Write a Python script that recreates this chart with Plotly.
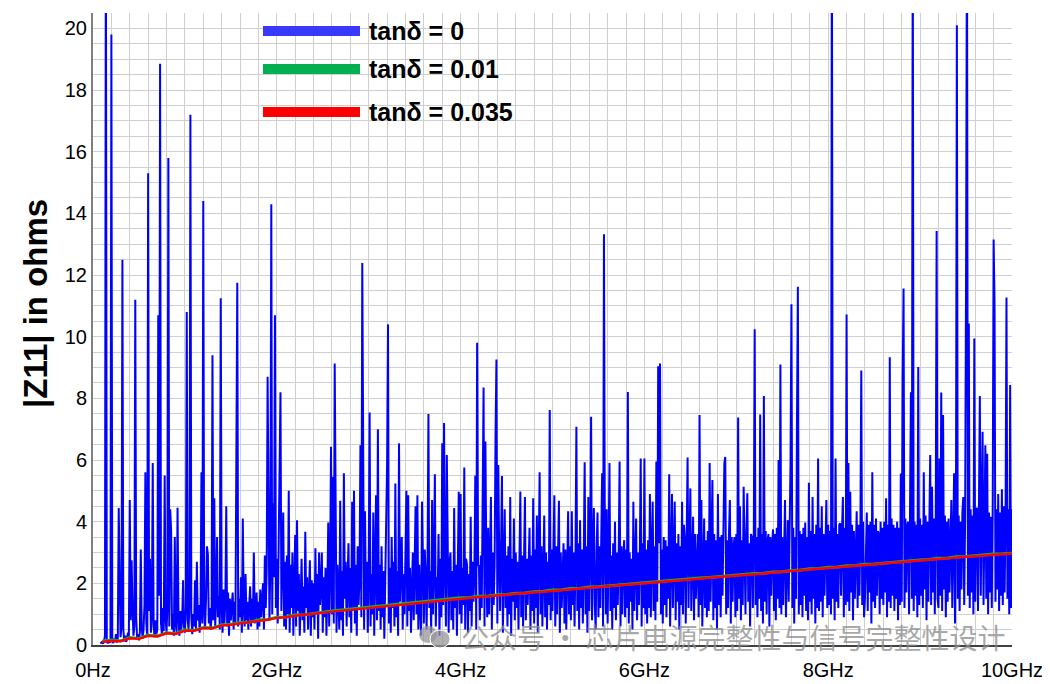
import numpy as np
import plotly.graph_objects as go

# ---------------- data ----------------
# |Z11| for tanδ = 0, sampled every 0.01 GHz; first row starts at 0.08 GHz,
# every following row covers 0.1 GHz (r*0.1 ... r*0.1+0.09), last row = 10.00 GHz
z_blue_rows = [
    [0.05, 0.08],
    [0.1, 0.04, 0.12, 0.3, 24, 0.2, 0.05, 0.15, 0.08, 0.12],
    [19.8, 0.15, 0.06, 0.2, 0.1, 0.35, 0.08, 0.22, 4.44, 2.2],
    [0.25, 0.6, 12.5, 0.5, 0.12, 0.3, 0.1, 0.18, 0.4, 0.2],
    [4.7, 0.8, 2.75, 1.2, 0.3, 0.6, 11.2, 0.9, 0.2, 0.35],
    [0.15, 0.4, 3.1, 0.6, 0.2, 0.5, 1.3, 5.6, 0.7, 0.3],
    [15.3, 1.1, 2.8, 0.4, 0.9, 5.9, 0.6, 0.25, 0.8, 0.35],
    [0.5, 10.7, 1.6, 18.85, 0.7, 0.3, 1.2, 0.45, 5.5, 0.9],
    [0.4, 1.3, 15.8, 0.6, 4.4, 3.7, 0.5, 1.0, 0.3, 3.5],
    [0.7, 0.4, 4.45, 0.9, 0.3, 1.1, 0.5, 0.8, 2.1, 0.6],
    [0.4, 1.2, 10.8, 0.8, 0.5, 1.4, 17.2, 0.9, 0.35, 1.0],
    [0.6, 2.1, 0.5, 2.7, 0.8, 1.3, 0.4, 1.0, 5.6, 0.7],
    [14.4, 1.1, 0.6, 1.5, 3.2, 2.95, 0.7, 1.2, 0.5, 0.9],
    [9.4, 0.8, 4.76, 0.6, 1.5, 3.5, 0.9, 1.6, 0.5, 11.25],
    [1.2, 0.4, 1.8, 0.7, 1.4, 4.5, 0.6, 1.7, 0.3, 1.5],
    [0.8, 1.3, 1.7, 0.5, 1.4, 0.7, 6.5, 11.75, 0.6, 1.5],
    [0.9, 2.2, 0.4, 4.1, 1.2, 0.6, 2.3, 0.8, 1.4, 0.5],
    [1.3, 1.9, 0.6, 1.5, 0.8, 3.0, 0.7, 1.2, 1.7, 0.5],
    [1.4, 0.6, 1.8, 0.9, 1.6, 2.0, 0.5, 2.9, 1.2, 2.4],
    [8.7, 3.3, 0.8, 2.6, 14.3, 1.0, 4.6, 2.2, 10.7, 1.2],
    [2.8, 0.7, 3.1, 5.0, 8.2, 1.1, 2.9, 4.3, 0.6, 2.7],
    [0.5, 2.9, 1.0, 5.0, 0.4, 2.6, 1.2, 3.0, 0.3, 2.4],
    [3.57, 0.6, 4.05, 1.1, 2.3, 0.3, 2.1, 2.8, 0.8, 1.9],
    [0.4, 3.67, 1.2, 2.2, 0.5, 1.8, 2.75, 0.3, 2.1, 0.9],
    [2.0, 0.5, 3.14, 1.0, 2.3, 0.2, 3.0, 1.3, 1.9, 3.0],
    [0.4, 2.2, 0.9, 2.5, 0.3, 1.8, 3.97, 0.6, 2.4, 6.43],
    [1.0, 5.46, 0.7, 9.13, 2.3, 0.4, 2.6, 1.2, 0.5, 4.68],
    [0.8, 2.4, 0.3, 5.57, 1.5, 2.7, 0.6, 2.1, 3.3, 0.9],
    [2.5, 0.4, 4.65, 1.1, 5.0, 0.7, 2.6, 0.3, 3.2, 1.3],
    [2.2, 6.48, 0.9, 12.39, 2.4, 0.5, 4.34, 1.2, 2.7, 0.4],
    [2.5, 7.54, 0.6, 2.3, 1.0, 4.3, 0.3, 2.8, 4.86, 0.8],
    [7.0, 1.1, 2.6, 0.5, 3.2, 0.9, 2.4, 0.2, 2.2, 4.16],
    [5.84, 10.4, 0.7, 2.5, 0.4, 3.5, 1.2, 2.7, 0.6, 5.24],
    [0.9, 2.4, 0.3, 6.54, 1.4, 2.6, 3.5, 0.5, 2.3, 1.0],
    [2.8, 5.0, 0.6, 4.86, 1.1, 2.5, 0.4, 2.2, 3.0, 0.8],
    [2.4, 4.5, 1.0, 4.86, 0.5, 2.6, 1.3, 0.3, 4.65, 2.1],
    [0.7, 3.1, 2.3, 0.5, 2.7, 7.49, 1.2, 2.4, 0.4, 4.7],
    [1.0, 2.6, 5.54, 0.6, 2.2, 1.4, 3.6, 0.3, 2.8, 0.9],
    [6.54, 1.3, 7.2, 2.5, 0.6, 6.16, 2.3, 0.4, 2.7, 3.0],
    [0.8, 2.4, 0.5, 4.44, 1.2, 2.6, 0.3, 2.9, 4.97, 1.0],
    [4.9, 0.7, 2.5, 1.3, 5.76, 0.5, 2.8, 2.6, 0.4, 2.3],
    [1.1, 4.16, 0.6, 2.7, 1.4, 2.4, 5.5, 0.5, 9.8, 2.6],
    [2.55, 0.8, 2.9, 1.2, 5.6, 8.35, 0.6, 6.6, 2.7, 0.9],
    [3.8, 1.0, 2.8, 4.8, 0.5, 3.0, 1.3, 2.6, 6.76, 9.26],
    [0.7, 5.84, 2.9, 1.1, 3.1, 5.48, 0.4, 2.7, 4.4, 1.2],
    [2.9, 0.6, 3.2, 1.0, 4.8, 0.3, 2.8, 1.4, 4.1, 0.8],
    [3.0, 1.2, 2.7, 0.5, 3.3, 4.98, 0.9, 2.9, 0.6, 3.1],
    [4.8, 0.8, 2.8, 1.3, 3.0, 3.8, 0.5, 2.9, 1.1, 4.76],
    [0.7, 3.1, 1.2, 4.2, 0.4, 2.8, 5.6, 1.0, 3.2, 0.6],
    [2.9, 4.2, 0.9, 3.0, 0.5, 2.7, 1.3, 7.62, 0.8, 3.1],
    [1.1, 2.8, 4.86, 0.6, 3.2, 1.0, 2.9, 4.68, 0.4, 3.0],
    [1.2, 2.7, 3.3, 0.7, 3.1, 0.5, 2.8, 4.34, 1.0, 3.2],
    [0.8, 4.34, 1.3, 3.0, 0.6, 2.9, 7.08, 1.1, 3.3, 0.5],
    [4.05, 1.2, 3.1, 0.7, 2.8, 5.93, 1.0, 3.2, 0.4, 4.8],
    [1.1, 3.0, 7.4, 0.8, 2.9, 4.44, 1.3, 0.5, 3.1, 4.3],
    [0.9, 3.2, 1.2, 2.8, 5.57, 0.6, 13.32, 3.0, 1.0, 4.4],
    [0.7, 3.1, 5.9, 1.1, 2.9, 0.5, 3.3, 1.2, 4.0, 0.8],
    [3.0, 1.3, 2.8, 5.95, 0.6, 3.2, 1.0, 2.9, 3.4, 0.9],
    [3.1, 1.2, 8.21, 0.7, 3.0, 1.4, 2.8, 0.5, 4.65, 1.1],
    [3.2, 4.1, 0.8, 3.0, 1.3, 2.9, 6.05, 0.6, 3.3, 1.2],
    [6.05, 1.0, 3.1, 0.7, 3.4, 1.2, 4.9, 0.9, 3.0, 4.65],
    [1.1, 3.2, 0.8, 5.95, 1.4, 9.04, 3.3, 9.13, 1.0, 3.1],
    [0.7, 3.5, 1.3, 3.4, 0.9, 3.2, 1.5, 5.54, 0.6, 3.3],
    [4.9, 1.2, 3.5, 4.65, 0.8, 3.3, 1.4, 3.6, 0.5, 3.2],
    [1.3, 4.65, 1.0, 3.9, 3.4, 0.7, 3.5, 6.08, 1.2, 3.3],
    [5.08, 1.1, 3.4, 4.16, 0.8, 3.6, 1.5, 3.2, 3.6, 0.9],
    [7.46, 1.3, 4.7, 0.6, 3.5, 4.1, 1.2, 3.4, 0.9, 3.7],
    [1.1, 5.9, 1.4, 3.3, 5.35, 0.8, 3.6, 1.2, 3.4, 0.5],
    [4.9, 1.3, 3.5, 0.9, 3.57, 1.6, 3.3, 5.9, 6.1, 1.0],
    [3.4, 1.2, 3.6, 4.7, 0.7, 3.5, 1.4, 3.2, 3.5, 0.9],
    [3.6, 1.1, 7.38, 1.5, 4.5, 0.8, 3.4, 1.3, 5.13, 3.5],
    [1.0, 3.7, 4.92, 1.4, 3.3, 0.6, 3.6, 3.5, 1.2, 3.4],
    [10.24, 1.3, 3.5, 0.9, 3.8, 1.5, 7.48, 1.1, 3.6, 0.7],
    [8.08, 1.4, 3.7, 1.0, 3.4, 3.6, 0.6, 3.5, 1.6, 3.3],
    [3.75, 1.1, 3.6, 0.8, 3.8, 1.5, 6.0, 1.2, 9.1, 1.0],
    [3.5, 1.3, 3.7, 4.7, 0.9, 3.4, 4.05, 1.4, 3.6, 5.9],
    [11.05, 1.2, 3.8, 0.7, 3.5, 1.5, 7.2, 11.62, 1.0, 3.7],
    [1.3, 3.6, 0.9, 3.8, 1.6, 3.97, 1.1, 3.5, 0.8, 5.26],
    [1.4, 3.7, 1.0, 4.8, 1.5, 3.6, 0.7, 3.9, 1.2, 6.05],
    [1.1, 3.8, 1.4, 4.5, 0.9, 3.6, 1.6, 3.7, 4.7, 1.2],
    [3.9, 1.3, 3.7, 1.0, 24, 1.5, 3.8, 0.8, 6.05, 1.4],
    [3.6, 1.2, 3.9, 3.95, 1.6, 3.7, 4.8, 0.9, 3.8, 1.3],
    [10.72, 1.4, 5.9, 1.1, 4.97, 1.7, 3.9, 0.8, 3.7, 1.5],
    [3.8, 4.34, 1.2, 3.9, 1.6, 3.7, 8.9, 1.3, 4.0, 0.9],
    [1.5, 3.8, 4.3, 1.1, 3.9, 1.7, 4.0, 0.7, 5.6, 1.4],
    [3.9, 1.2, 4.1, 1.6, 3.7, 3.6, 1.0, 4.0, 1.5, 3.8],
    [1.3, 4.0, 1.7, 4.76, 0.9, 3.9, 1.4, 9.33, 1.2, 4.1],
    [1.6, 3.9, 1.1, 3.8, 1.5, 4.0, 0.8, 3.8, 1.3, 5.56],
    [1.4, 8.59, 11.56, 1.2, 4.1, 1.7, 3.9, 4.0, 1.0, 4.2],
    [8.2, 1.5, 24, 1.1, 4.0, 1.6, 3.9, 0.9, 9.02, 1.3],
    [4.1, 1.6, 3.9, 1.2, 5.6, 1.8, 4.2, 0.8, 4.0, 1.4],
    [3.9, 6.16, 1.3, 5.13, 1.7, 4.1, 1.0, 4.0, 13.43, 1.5],
    [1.2, 6.05, 1.6, 8.19, 1.1, 7.46, 1.8, 4.2, 0.9, 4.0],
    [1.4, 4.1, 1.7, 4.0, 4.7, 1.2, 4.3, 5.57, 0.7, 4.0],
    [20.1, 1.5, 4.2, 1.1, 4.0, 1.8, 4.3, 4.8, 1.3, 4.1],
    [11.83, 24, 1.6, 10.43, 1.2, 4.4, 1.7, 4.2, 1.0, 9.94],
    [1.4, 4.3, 4.45, 1.1, 4.5, 8.08, 1.6, 4.2, 6.92, 1.3],
    [4.4, 6.48, 1.5, 6.2, 1.0, 4.3, 1.7, 4.16, 1.2, 4.5],
    [13.15, 11.1, 1.4, 4.4, 1.8, 4.9, 1.1, 4.3, 1.6, 5.05],
    [1.3, 4.5, 1.7, 4.2, 11.27, 1.5, 4.4, 1.0, 8.43, 1.2],
    [4.4],
]

# lossy cases (tanδ = 0.01 and 0.035), sampled every 0.1 GHz from 0.1 to 10.0 GHz
z_green = [
    0.12, 0.16, 0.13, 0.24, 0.21, 0.32, 0.29, 0.40, 0.37, 0.49,
    0.47, 0.57, 0.55, 0.65, 0.67, 0.72, 0.74, 0.81, 0.83, 0.90,
    0.91, 0.97, 0.98, 1.03, 1.06, 1.10, 1.13, 1.17, 1.20, 1.24,
    1.26, 1.30, 1.32, 1.36, 1.38, 1.42, 1.44, 1.47, 1.49, 1.53,
    1.54, 1.58, 1.59, 1.63, 1.64, 1.68, 1.69, 1.73, 1.74, 1.78,
    1.79, 1.83, 1.84, 1.88, 1.89, 1.92, 1.94, 1.97, 1.99, 2.02,
    2.04, 2.07, 2.09, 2.12, 2.14, 2.17, 2.19, 2.22, 2.24, 2.27,
    2.29, 2.32, 2.33, 2.37, 2.38, 2.42, 2.43, 2.47, 2.48, 2.52,
    2.53, 2.57, 2.58, 2.62, 2.63, 2.66, 2.68, 2.71, 2.73, 2.76,
    2.77, 2.81, 2.82, 2.86, 2.87, 2.90, 2.92, 2.95, 2.96, 2.98,
]
z_red = [
    0.10, 0.14, 0.12, 0.22, 0.20, 0.30, 0.28, 0.38, 0.36, 0.47,
    0.46, 0.55, 0.54, 0.63, 0.66, 0.70, 0.73, 0.79, 0.82, 0.88,
    0.90, 0.95, 0.97, 1.01, 1.05, 1.08, 1.12, 1.15, 1.19, 1.22,
    1.25, 1.28, 1.31, 1.34, 1.37, 1.40, 1.43, 1.45, 1.48, 1.51,
    1.53, 1.56, 1.58, 1.61, 1.63, 1.66, 1.68, 1.71, 1.73, 1.76,
    1.78, 1.81, 1.83, 1.86, 1.88, 1.90, 1.93, 1.95, 1.98, 2.00,
    2.03, 2.05, 2.08, 2.10, 2.13, 2.15, 2.18, 2.20, 2.23, 2.25,
    2.28, 2.30, 2.32, 2.35, 2.37, 2.40, 2.42, 2.45, 2.47, 2.50,
    2.52, 2.55, 2.57, 2.60, 2.62, 2.64, 2.67, 2.69, 2.72, 2.74,
    2.76, 2.79, 2.81, 2.84, 2.86, 2.88, 2.91, 2.93, 2.95, 2.97,
]

x_tick_vals = [0, 2, 4, 6, 8, 10]
x_tick_text = ["0Hz", "2GHz", "4GHz", "6GHz", "8GHz", "10GHz"]
y_tick_vals = [0, 2, 4, 6, 8, 10, 12, 14, 16, 18, 20]
legend_names = ["tanδ = 0", "tanδ = 0.01", "tanδ = 0.035"]
legend_colors = ["#3838FF", "#00B050", "#FF0000"]

# ---------------- build frequency axes ----------------
f_blue, z_blue = [], []
for r, row in enumerate(z_blue_rows):
    start = 0.08 if r == 0 else 0.1 * r
    for j, v in enumerate(row):
        f_blue.append(round(start + 0.01 * j, 2))
        z_blue.append(v)
f_loss = [round(0.1 * (k + 1), 1) for k in range(len(z_red))]

fig = go.Figure()
fig.add_trace(go.Scatter(x=f_blue, y=z_blue, mode="lines",
                         line=dict(color="#0000FF", width=2), showlegend=False))
fig.add_trace(go.Scatter(x=f_loss, y=z_green, mode="lines",
                         line=dict(color="#00C030", width=3), showlegend=False))
fig.add_trace(go.Scatter(x=f_loss, y=z_red, mode="lines",
                         line=dict(color="#FF0000", width=2.5), showlegend=False))

# page has an 8px body margin -> figure placed at (8, 8) in the window
OFF = 8
W, H = 1050 - OFF, 684 - OFF
L, R, T, B = 93 - OFF, 1050 - 1012, 13 - OFF, 684 - 645
pw, ph = W - L - R, H - T - B


def px(x):  # window pixel -> paper x
    return (x - OFF - L) / pw


def py(y):  # window pixel -> paper y
    return (H - B - (y - OFF)) / ph


# custom legend (thick lines + bold labels)
for name, col, yy in zip(legend_names, legend_colors, [31, 69, 112]):
    fig.add_shape(type="line", xref="paper", yref="paper",
                  x0=px(263), x1=px(360), y0=py(yy), y1=py(yy),
                  line=dict(color=col, width=10))
    fig.add_annotation(xref="paper", yref="paper", x=px(367), y=py(yy),
                       xanchor="left", yanchor="middle", showarrow=False,
                       text="<b>%s</b>" % name,
                       font=dict(family="Liberation Sans, Arial", size=25, color="black"))

# y-axis title (placed like the reference, slightly above centre)
fig.add_annotation(xref="paper", yref="paper", x=px(35), y=py(304),
                   xanchor="center", yanchor="middle", showarrow=False,
                   textangle=-90, text="<b>|Z11| in ohms</b>",
                   font=dict(family="Liberation Sans, Arial", size=33, color="black"))

# watermark
fig.add_shape(type="circle", xref="paper", yref="paper",
              x0=px(419), x1=px(437), y0=py(643), y1=py(626),
              fillcolor="rgba(150,150,150,0.75)", line=dict(width=0))
fig.add_shape(type="circle", xref="paper", yref="paper",
              x0=px(430), x1=px(450), y0=py(648), y1=py(630),
              fillcolor="rgba(150,150,150,0.75)", line=dict(color="white", width=1))
fig.add_annotation(xref="paper", yref="paper", x=px(459), y=py(637),
                   xanchor="left", yanchor="middle", showarrow=False,
                   text="公众号 · 芯片电源完整性与信号完整性设计",
                   font=dict(family="Noto Sans CJK SC", size=28,
                             color="rgba(140,140,140,0.75)"))

axis_font = dict(family="Liberation Sans, Arial", size=20, color="black")
fig.update_layout(
    width=W, height=H,
    margin=dict(l=L, r=R, t=T, b=B, autoexpand=False),
    paper_bgcolor="white", plot_bgcolor="white",
    xaxis=dict(range=[0, 10], tickvals=x_tick_vals, ticktext=x_tick_text,
               automargin=False, ticklabelstandoff=6,
               showgrid=True, gridcolor="#CFCFCF", gridwidth=1,
               minor=dict(dtick=0.2, showgrid=True, gridcolor="#CFCFCF", gridwidth=1),
               showline=True, linecolor="#404040", linewidth=1.5,
               ticks="", zeroline=False, tickfont=axis_font),
    yaxis=dict(range=[0, 20.5], tickvals=y_tick_vals,
               automargin=False,
               showgrid=True, gridcolor="#CFCFCF", gridwidth=1,
               minor=dict(dtick=0.5, showgrid=True, gridcolor="#CFCFCF", gridwidth=1),
               showline=True, linecolor="#808080", linewidth=2,
               ticks="", zeroline=False, tickfont=axis_font),
)

fig.write_html("out.html")
